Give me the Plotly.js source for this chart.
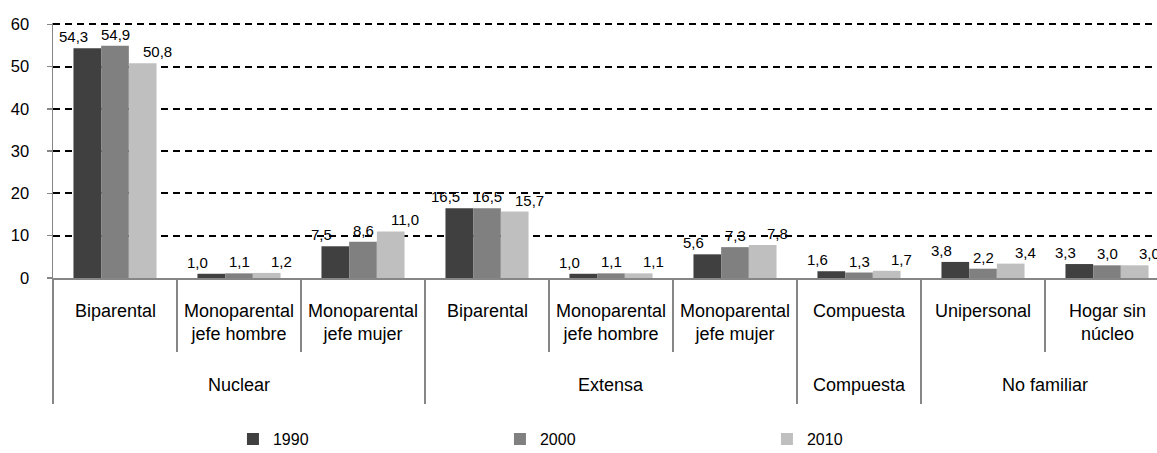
<!DOCTYPE html>
<html>
<head>
<meta charset="utf-8">
<script src="https://cdn.plot.ly/plotly-3.0.1.min.js"></script>
<style>html,body{margin:0;padding:0;background:#fff;}#chart{width:1157px;height:453px;}</style>
</head>
<body>
<div id="chart"></div>
<script>
// ---- data ----
var subcategories = ['Biparental', 'Monoparental<br>jefe hombre', 'Monoparental<br>jefe mujer',
                     'Biparental', 'Monoparental<br>jefe hombre', 'Monoparental<br>jefe mujer',
                     'Compuesta', 'Unipersonal', 'Hogar sin<br>núcleo'];
var groups = ['Nuclear', 'Extensa', 'Compuesta', 'No familiar'];
var groupSizes = [3, 3, 1, 2];
var seriesNames = ['1990', '2000', '2010'];
var v1990 = [54.3, 1.0, 7.5, 16.5, 1.0, 5.6, 1.6, 3.8, 3.3];
var v2000 = [54.9, 1.1, 8.6, 16.5, 1.1, 7.3, 1.3, 2.2, 3.0];
var v2010 = [50.8, 1.2, 11.0, 15.7, 1.1, 7.8, 1.7, 3.4, 3.0];
var yTicks = [0, 10, 20, 30, 40, 50, 60];

// ---- build ----
var colors = ['#404040', '#808080', '#bfbfbf'];
var values = [v1990, v2000, v2010];
var xs = subcategories.map(function (_, i) { return i; });
var FONT = 'Liberation Sans, Arial, sans-serif';

var traces = values.map(function (vals, k) {
  return {
    type: 'bar', x: xs, y: vals, name: seriesNames[k],
    marker: {color: colors[k], line: {width: 0}},
    hoverinfo: 'skip'
  };
});
// carrier trace so that the second (group-divider) x axis is drawn
traces.push({type: 'scatter', mode: 'markers', x: [], y: [], xaxis: 'x2', yaxis: 'y',
             showlegend: false, hoverinfo: 'skip'});

var annotations = [];
// data labels (spread like the reference)
values.forEach(function (vals, k) {
  vals.forEach(function (v, i) {
    annotations.push({
      x: i, y: v, xref: 'x', yref: 'y', text: v.toFixed(1).replace('.', ','),
      showarrow: false, xanchor: 'center', yanchor: 'bottom',
      xshift: (k - 1) * 42, yshift: 1,
      font: {family: FONT, size: 15, color: '#000'}
    });
  });
});

var subBounds = [];
for (var i = 0; i <= subcategories.length; i++) subBounds.push(i - 0.5);
var groupBounds = [-0.5];
var start = 0;
groups.forEach(function (g, gi) {
  var n = groupSizes[gi];
  annotations.push({
    x: start + (n - 1) / 2, y: -0.42, xref: 'x', yref: 'paper',
    text: g, showarrow: false, xanchor: 'center', yanchor: 'middle',
    font: {family: FONT, size: 18, color: '#000'}
  });
  start += n;
  groupBounds.push(start - 0.5);
});
subcategories.forEach(function (s, i) {
  annotations.push({
    x: i, y: -0.082, xref: 'x', yref: 'paper', text: s, showarrow: false,
    xanchor: 'center', yanchor: 'top', align: 'center',
    font: {family: FONT, size: 18, color: '#000'}
  });
});

var plotLeft = 53, plotWidth = 1157 - 53, catWidth = 124;
var xRange = [-0.5, -0.5 + plotWidth / catWidth];

var layout = {
  width: 1157, height: 453,
  margin: {l: plotLeft, r: 0, t: 23, b: 175, pad: 0, autoexpand: false},
  paper_bgcolor: '#fff', plot_bgcolor: '#fff',
  separators: ',.',
  barmode: 'group', bargap: 0.33, bargroupgap: 0,
  font: {family: FONT, color: '#000'},
  showlegend: true,
  legend: {
    orientation: 'h', x: 0.163, xanchor: 'left', y: -0.565, yanchor: 'top',
    entrywidth: 222, entrywidthmode: 'pixels', itemwidth: 30,
    font: {family: FONT, size: 16, color: '#000'},
    bgcolor: 'rgba(0,0,0,0)'
  },
  xaxis: {
    type: 'linear', range: xRange, tickvals: subBounds, showticklabels: false,
    ticks: 'outside', ticklen: 72, tickwidth: 1.5, tickcolor: '#868686',
    showline: true, linecolor: '#868686', linewidth: 1.5,
    showgrid: false, zeroline: false, fixedrange: true
  },
  xaxis2: {
    type: 'linear', overlaying: 'x', anchor: 'y', side: 'bottom', range: xRange,
    tickvals: groupBounds, showticklabels: false,
    ticks: 'outside', ticklen: 125, tickwidth: 1.5, tickcolor: '#868686',
    showline: false, showgrid: false, zeroline: false, fixedrange: true
  },
  yaxis: {
    range: [0, 60.3], tickvals: yTicks, ticks: 'outside', ticklen: 5,
    tickwidth: 1.5, tickcolor: '#868686',
    showline: true, linecolor: '#868686', linewidth: 1.5,
    showgrid: true, gridcolor: '#000', gridwidth: 2, griddash: '7px,5px',
    zeroline: false, ticklabelstandoff: 14,
    tickfont: {family: FONT, size: 16.5, color: '#000'}, fixedrange: true
  },
  annotations: annotations
};

Plotly.newPlot('chart', traces, layout, {displayModeBar: false, staticPlot: true});
</script>
</body>
</html>
